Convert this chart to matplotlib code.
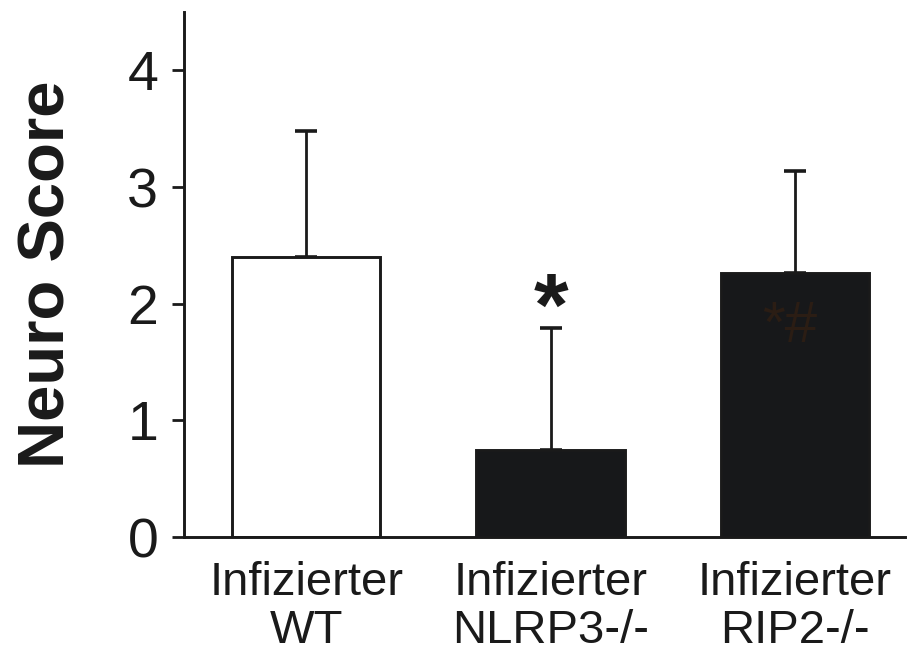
import numpy as np
from matplotlib import pyplot as plt

plt.rcParams['font.family'] = ['Liberation Sans', 'DejaVu Sans']

# data
groups = ["Infizierter\nWT", "Infizierter\nNLRP3-/-", "Infizierter\nRIP2-/-"]
means = [2.40, 0.75, 2.26]
sd_up = [1.08, 1.04, 0.88]
bar_colors = ["white", "#17181a", "#17181a"]
marks = ["", "*", "*#"]

fig = plt.figure(figsize=(9.12, 6.56), dpi=100)
ax = fig.add_axes([0.2018, 0.1814, 0.7905, 0.8003])

x = np.arange(len(groups))
ax.bar(x, means, width=0.607, color=bar_colors, edgecolor="#1a1a1a",
       linewidth=2.1, zorder=2)
ax.errorbar(x, means, yerr=[np.zeros(len(x)), sd_up], fmt="none",
            ecolor="#1a1a1a", elinewidth=2.0, capsize=8, capthick=2.6, zorder=1)

# significance marks
ax.text(x[1], 1.93, marks[1], ha="center", va="center", fontsize=64,
        fontweight="bold", color="#1a1a1a")
ax.text(x[2] - 0.02, 1.80, marks[2], ha="center", va="center", fontsize=42,
        color="#2b1d14")

ax.set_xlim(-0.5, 2.45)
ax.set_ylim(0, 4.5)
ax.set_yticks([0, 1, 2, 3, 4])
ax.set_xticks(x)
ax.set_xticklabels(groups, fontsize=34, linespacing=1.12)
ax.tick_params(axis="y", direction="out", length=8.6, width=2.0,
               labelsize=40, pad=10, colors="#1a1a1a")
ax.tick_params(axis="x", length=0, pad=17, labelcolor="#1a1a1a")
ax.set_ylabel("Neuro Score", fontsize=47, fontweight="bold", labelpad=36,
              color="#1a1a1a")

for s in ["top", "right"]:
    ax.spines[s].set_visible(False)
for s in ["left", "bottom"]:
    ax.spines[s].set_linewidth(2.1)
    ax.spines[s].set_color("#1a1a1a")

fig.savefig("out.png", dpi=100)
